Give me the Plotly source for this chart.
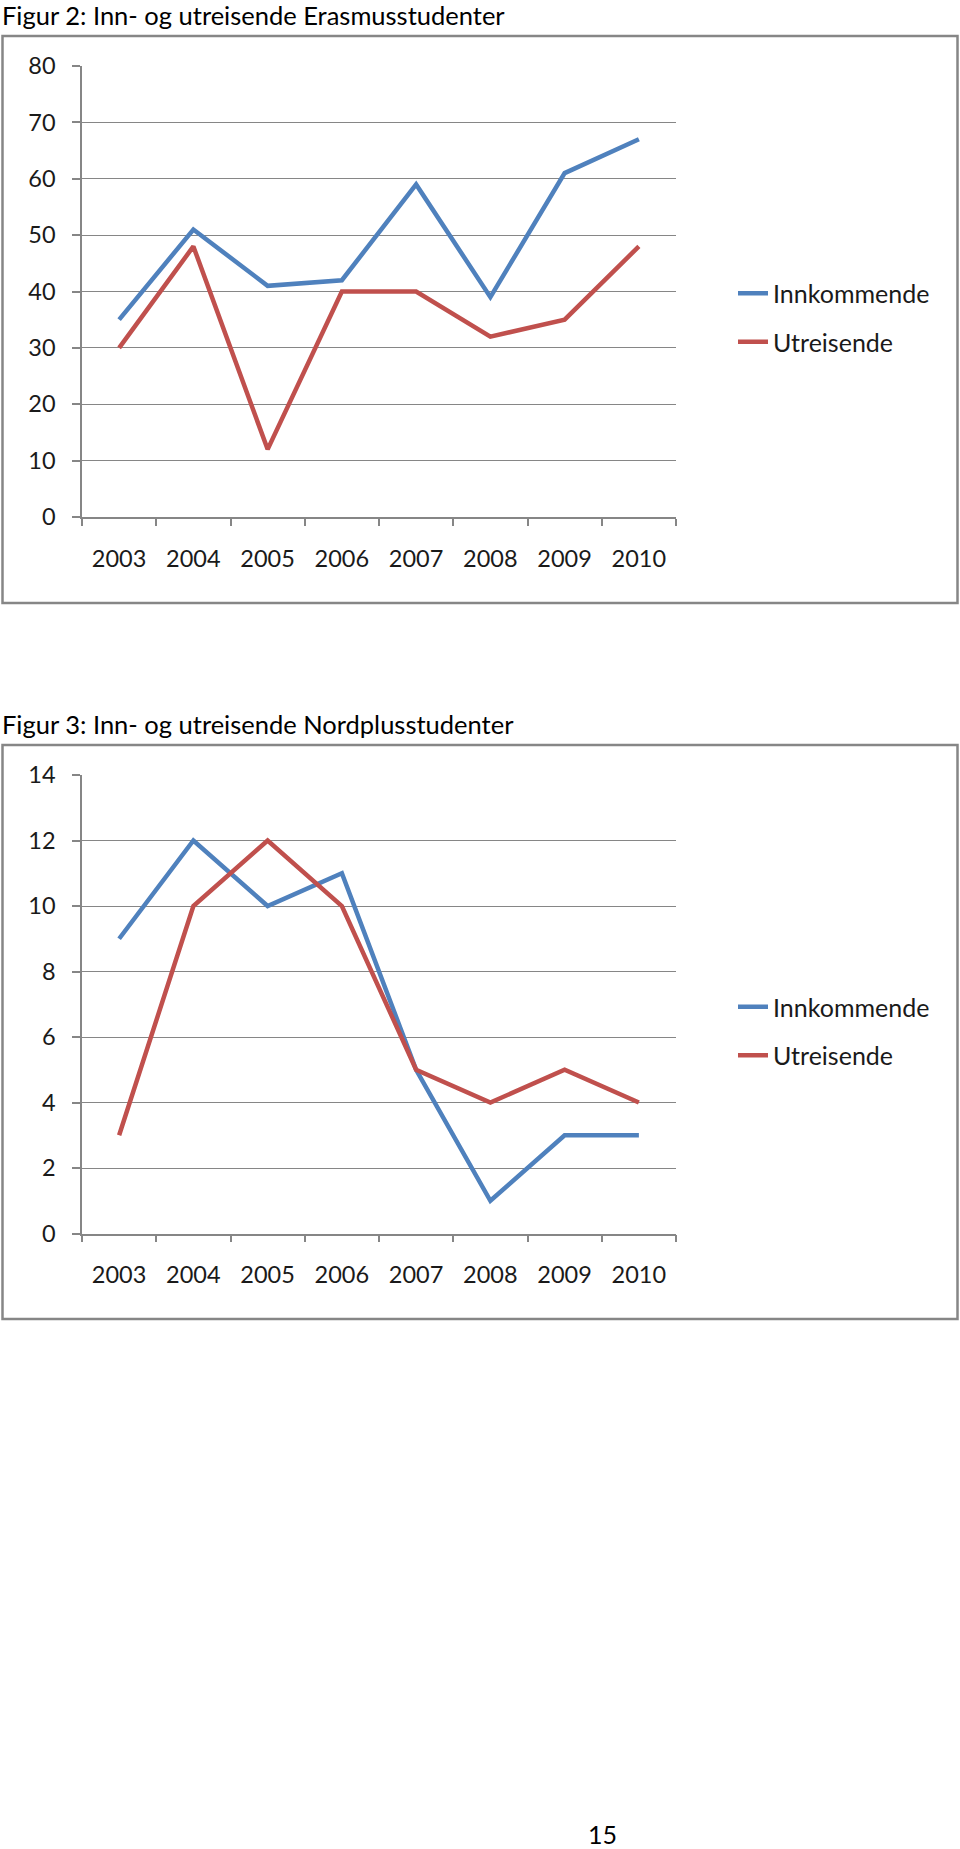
import plotly.graph_objects as go

years = ["2003", "2004", "2005", "2006", "2007", "2008", "2009", "2010"]
erasmus_inn = [35, 51, 41, 42, 59, 39, 61, 67]
erasmus_ut = [30, 48, 12, 40, 40, 32, 35, 48]
nordplus_inn = [9, 12, 10, 11, 5, 1, 3, 3]
nordplus_ut = [3, 10, 12, 10, 5, 4, 5, 4]
series_names = ["Innkommende", "Utreisende"]
title1 = "Figur 2: Inn- og utreisende Erasmusstudenter"
title2 = "Figur 3: Inn- og utreisende Nordplusstudenter"
page_number = "15"

W, H = 960, 1849
BLUE = "#4F81BD"
RED = "#C0504D"
GRID = "#868686"
FONT = "Lato"
TXT = "#1a1a1a"

def py(px):
    return 1 - px / H

fig = go.Figure()

fig.add_trace(go.Scatter(x=years, y=erasmus_inn, mode="lines", name=series_names[0],
                         line=dict(color=BLUE, width=4.5), xaxis="x", yaxis="y",
                         legend="legend", legendgroup="a"))
fig.add_trace(go.Scatter(x=years, y=erasmus_ut, mode="lines", name=series_names[1],
                         line=dict(color=RED, width=4.5), xaxis="x", yaxis="y",
                         legend="legend", legendgroup="b"))
fig.add_trace(go.Scatter(x=years, y=nordplus_inn, mode="lines", name=series_names[0],
                         line=dict(color=BLUE, width=4.5), xaxis="x2", yaxis="y2",
                         legend="legend2", legendgroup="c"))
fig.add_trace(go.Scatter(x=years, y=nordplus_ut, mode="lines", name=series_names[1],
                         line=dict(color=RED, width=4.5), xaxis="x2", yaxis="y2",
                         legend="legend2", legendgroup="d"))

xdom = [82 / W, 676 / W]
common_x = dict(type="category", range=[-0.5, 7.5], tickson="boundaries", ticks="outside",
                ticklen=7, tickcolor=GRID, tickwidth=1.5, showline=True, linecolor=GRID,
                linewidth=1.5, showgrid=False, zeroline=False, ticklabelstandoff=20,
                automargin=False,
                tickfont=dict(family=FONT, size=23.5, color=TXT), fixedrange=True)
common_y = dict(showline=True, linecolor=GRID, linewidth=1.5, ticks="outside", ticklen=8,
                tickcolor=GRID, tickwidth=1.5, showgrid=True, gridcolor=GRID, gridwidth=1.2,
                zeroline=False, ticklabelstandoff=12, automargin=False,
                tickfont=dict(family=FONT, size=23.5, color=TXT), fixedrange=True)

legend_common = dict(xanchor="left", yanchor="top", traceorder="grouped", tracegroupgap=13,
                     font=dict(family=FONT, size=25, color=TXT), bgcolor="rgba(0,0,0,0)")

fig.update_layout(
    width=W, height=H,
    margin=dict(l=0, r=0, t=0, b=0, autoexpand=False),
    paper_bgcolor="white", plot_bgcolor="white",
    xaxis=dict(domain=xdom, anchor="y", **common_x),
    yaxis=dict(domain=[py(517), py(66)], range=[0, 80], dtick=10, anchor="x", **common_y),
    xaxis2=dict(domain=xdom, anchor="y2", **common_x),
    yaxis2=dict(domain=[py(1233.5), py(775)], range=[0, 14], dtick=2, anchor="x2", **common_y),
    legend=dict(x=733 / W, y=py(270.5), **legend_common),
    legend2=dict(x=733 / W, y=py(984), **legend_common),
    showlegend=True,
)

# chart frames
for top, bot in [(36, 603), (745, 1319)]:
    fig.add_shape(type="rect", xref="paper", yref="paper", x0=2.5 / W, x1=957.5 / W,
                  y0=py(bot), y1=py(top), line=dict(color=GRID, width=2.5), layer="below")

fig.add_annotation(text=title1, xref="paper", yref="paper", x=0, y=py(15), xanchor="left",
                   yanchor="middle", showarrow=False, font=dict(family=FONT, size=25.5, color="#000"))
fig.add_annotation(text=title2, xref="paper", yref="paper", x=0, y=py(724), xanchor="left",
                   yanchor="middle", showarrow=False, font=dict(family=FONT, size=25.5, color="#000"))
fig.add_annotation(text=page_number, xref="paper", yref="paper", x=602 / W, y=py(1834),
                   xanchor="center", yanchor="middle", showarrow=False,
                   font=dict(family=FONT, size=25, color="#000"))

fig.write_html("out.html", config={"displayModeBar": False},
               post_script="document.body.style.margin='0';")
